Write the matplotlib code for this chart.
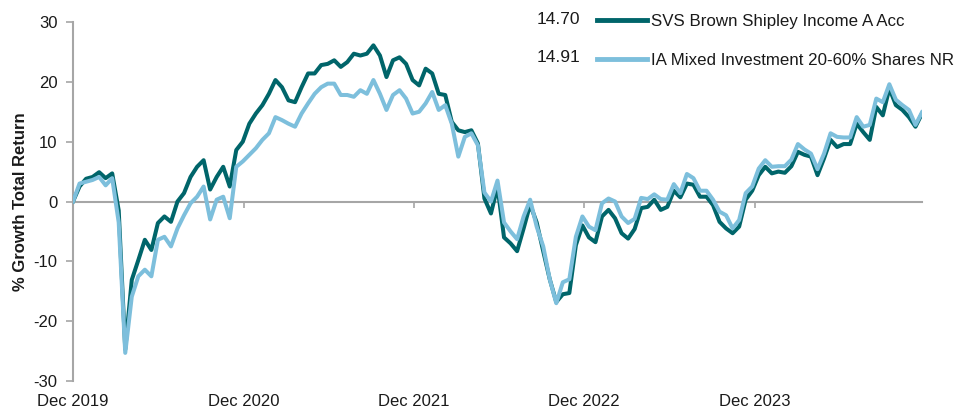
import matplotlib
matplotlib.use("Agg")
import matplotlib.pyplot as plt
import matplotlib.dates as mdates
import pandas as pd

plt.rcParams['font.family'] = ['Liberation Sans', 'DejaVu Sans']
plt.rcParams['axes.unicode_minus'] = False

fund_name = "SVS Brown Shipley Income A Acc"
sector_name = "IA Mixed Investment 20-60% Shares NR"
fund_last = "14.70"
sector_last = "14.91"

start_date = "2019-12-31"
step = "14D"

fund = [0.0, 2.5, 3.8, 4.1, 4.9, 3.9, 4.7, -1.5, -24.7, -13.1,
        -9.8, -6.4, -8.1, -3.6, -2.5, -3.4, 0.0, 1.4, 4.1, 5.8,
        6.9, 2.0, 4.1, 5.8, 2.5, 8.6, 10.0, 13.0, 14.7, 16.1,
        18.0, 20.3, 19.1, 16.9, 16.6, 19.1, 21.4, 21.4, 22.8, 23.0,
        23.6, 22.5, 23.3, 24.7, 24.4, 24.7, 26.1, 24.4, 20.8, 23.6,
        24.1, 23.0, 20.3, 19.4, 22.2, 21.4, 18.0, 17.8, 13.3, 11.9,
        11.6, 11.9, 9.7, 0.5, -2.0, 2.5, -6.0, -7.0, -8.3, -4.5,
        -0.5, -3.5, -8.3, -13.0, -16.8, -15.5, -15.3, -7.3, -4.0, -6.0,
        -6.8, -2.5, -1.4, -2.8, -5.3, -6.2, -4.6, -1.1, -0.9, 0.3,
        -1.4, -0.9, 1.8, 0.7, 3.0, 2.8, 0.8, 0.8, -0.6, -3.4,
        -4.5, -5.3, -4.2, 0.3, 1.8, 4.4, 5.8, 4.7, 5.0, 4.8,
        5.9, 8.3, 7.8, 7.5, 4.4, 7.2, 10.3, 9.1, 9.6, 9.6,
        13.0, 11.6, 10.3, 15.8, 14.4, 18.9, 16.1, 15.3, 14.1, 12.5,
        14.70]

sector = [0.0, 3.0, 3.3, 3.6, 4.1, 2.7, 3.9, -3.5, -25.3, -15.9,
          -12.5, -11.4, -12.5, -6.4, -5.9, -7.5, -4.5, -2.3, -0.3, 0.8,
          2.5, -3.0, 0.3, 0.8, -2.8, 5.8, 6.7, 7.8, 8.9, 10.3,
          11.4, 14.1, 13.6, 13.0, 12.5, 14.7, 16.4, 18.0, 19.1, 19.7,
          19.7, 17.8, 17.8, 17.5, 18.6, 18.0, 20.3, 18.0, 15.3, 17.8,
          18.6, 17.2, 14.7, 15.0, 16.4, 18.3, 15.3, 16.1, 13.0, 7.5,
          10.8, 11.4, 9.4, 1.5, 0.0, 3.5, -3.5, -5.0, -6.3, -2.5,
          0.3, -4.2, -7.5, -13.0, -17.0, -13.5, -13.0, -5.9, -2.5, -4.2,
          -4.8, -0.3, 0.5, 0.0, -2.5, -3.6, -2.9, 0.6, 0.4, 1.2,
          0.4, 0.3, 2.9, 1.4, 4.6, 3.9, 1.8, 1.8, 0.3, -1.7,
          -2.3, -4.5, -3.1, 1.4, 2.5, 5.5, 6.9, 5.8, 5.9, 5.9,
          7.0, 9.6, 8.7, 8.0, 5.4, 8.0, 11.4, 10.8, 10.7, 10.7,
          14.1, 12.5, 12.8, 17.2, 16.6, 19.6, 17.0, 16.1, 15.3, 12.8,
          14.91]

tick_dates = ["2019-12-31", "2020-12-31", "2021-12-31", "2022-12-31", "2023-12-31"]
y_ticks = [-30, -20, -10, 0, 10, 20, 30]

dates = pd.date_range(start_date, periods=len(fund), freq=step)

dark = "#00656A"
light = "#7DBFDC"
grey = "#A6A6A6"
txt = "#1A1A1A"

fig = plt.figure(figsize=(9.61, 4.12), dpi=100)
ax = fig.add_axes([73/961, 1-381/412, (922-73)/961, (381-22)/412])

ax.plot(dates, fund, color=dark, lw=2.9, solid_joinstyle='round', label=fund_name, zorder=3)
ax.plot(dates, sector, color=light, lw=2.9, solid_joinstyle='round', label=sector_name, zorder=4)

ax.set_xlim(dates[0], dates[-1])
ax.set_ylim(-30, 30)
ax.set_yticks(y_ticks)

for s in ['top', 'right']:
    ax.spines[s].set_visible(False)
ax.spines['left'].set_color(grey)
ax.spines['left'].set_linewidth(1.5)
ax.spines['bottom'].set_position(('data', 0))
ax.spines['bottom'].set_color(grey)
ax.spines['bottom'].set_linewidth(1.5)
ax.spines['bottom'].set_zorder(2)

ticks = pd.to_datetime(tick_dates)
ax.set_xticks(ticks)
ax.tick_params(axis='x', direction='out', length=4, width=1.2, color=grey,
               labelbottom=False)
ax.tick_params(axis='y', direction='out', length=5, width=1.2, color=grey,
               labelsize=12, labelcolor=txt, pad=6)

sec = ax.secondary_xaxis('bottom')
sec.set_xticks(ticks)
sec.xaxis.set_major_formatter(mdates.DateFormatter('%b %Y'))
sec.tick_params(length=0, labelsize=12, labelcolor=txt, pad=9)
for s in sec.spines.values():
    s.set_visible(False)

ax.set_ylabel("% Growth Total Return", fontsize=12, fontweight='bold', color=txt)
ax.yaxis.set_label_coords(-0.053, 0.5)

leg = fig.legend(loc='upper left', bbox_to_anchor=(597/961, 1-14/412), frameon=False,
                 fontsize=12.2, handlelength=2.95, handletextpad=0.25, labelspacing=1.42,
                 borderpad=0, borderaxespad=0)
for line in leg.get_lines():
    line.set_linewidth(3.5)
for t in leg.get_texts():
    t.set_color(txt)

fig.text(580/961, 1-20/412, fund_last, ha='right', va='center', fontsize=12.5, color=txt)
fig.text(580/961, 1-57/412, sector_last, ha='right', va='center', fontsize=12.5, color=txt)

fig.savefig("out.png", dpi=100)
